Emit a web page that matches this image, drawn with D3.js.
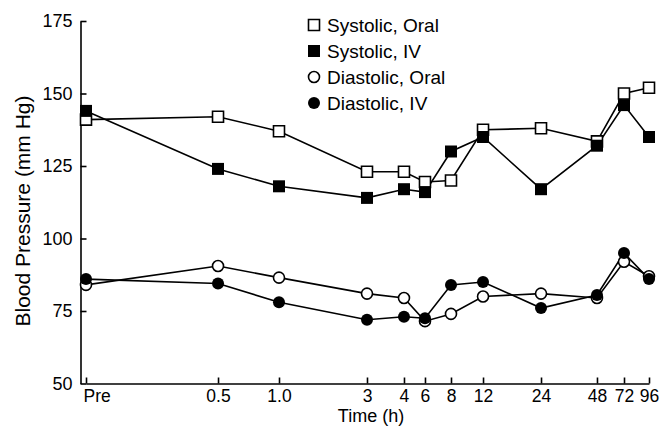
<!DOCTYPE html>
<html>
<head>
<meta charset="utf-8">
<script src="https://cdn.jsdelivr.net/npm/d3@7"></script>
<style>
    body { margin: 0; background: #fff; }
    text { font-family: "Liberation Sans", Arial, Helvetica, sans-serif; fill: #000; }
    .axis path, .axis line { stroke: #000; stroke-width: 1.6; }
    .line { fill: none; stroke: #000; stroke-width: 1.6; }
</style>
</head>
<body>
<script>
// time points, "Pre" is put at hour 0
const hours = [0, 0.5, 1, 3, 4, 6, 8, 12, 24, 48, 72, 96];
const hourLabels = ["Pre", "0.5", "1.0", "3", "4", "6", "8", "12", "24", "48", "72", "96"];
const yTicks = [50, 75, 100, 125, 150, 175];

// values (mm Hg)
const systolicOral = [141, 142, 137, 123, 123, 119.5, 120, 137.5, 138, 133.5, 150, 152];
const systolicIV = [144, 124, 118, 114, 117, 116, 130, 135, 117, 132, 146, 135];
const diastolicOral = [84, 90.5, 86.5, 81, 79.5, 71.5, 74, 80, 81, 79.5, 92, 87];
const diastolicIV = [86, 84.5, 78, 72, 73, 72.5, 84, 85, 76, 80.5, 95, 86];

const seriesNames = ["Systolic, Oral", "Systolic, IV", "Diastolic, Oral", "Diastolic, IV"];

// the original time axis is not uniform, these are the relative stops of every tick along it
const axisStops = [0, 0.2345, 0.3428, 0.4991, 0.5648, 0.6021, 0.6483, 0.7052, 0.8082, 0.9076, 0.9556, 1];

const width = 661, height = 428;
const xLeft = 86, xRight = 649, yTop = 21, yBottom = 383.5, yAxisX = 80.5;

let svg = d3.select("body").append("svg")
    .attr("width", width)
    .attr("height", height);

let xScale = d3.scaleLinear()
    .domain(hours)
    .range(axisStops.map(f => xLeft + f * (xRight - xLeft)));

let yScale = d3.scaleLinear()
    .domain([50, 175])
    .range([yBottom, yTop]);

// x axis, ticks point up into the plot
let xAxis = svg.append("g")
    .attr("class", "x axis")
    .attr("transform", "translate(0," + yBottom + ")")
    .call(d3.axisBottom(xScale)
        .tickValues(hours)
        .tickFormat((d, i) => hourLabels[i])
        .tickSizeInner(-6)
        .tickSizeOuter(0)
        .tickPadding(6));
xAxis.selectAll("text").style("font-size", "17.5px");
//"Pre" sits to the right of its tick
xAxis.selectAll(".tick text").filter((d, i) => i === 0)
    .attr("text-anchor", "start")
    .attr("x", -3);

// y axis, ticks point right
let yAxis = svg.append("g")
    .attr("class", "y axis")
    .attr("transform", "translate(" + yAxisX + ",0)")
    .call(d3.axisLeft(yScale)
        .tickValues(yTicks)
        .tickSizeInner(-6)
        .tickSizeOuter(0)
        .tickPadding(8));
yAxis.selectAll("text").style("font-size", "18px");
svg.selectAll(".axis .domain").attr("fill", "none");

svg.append("text")
    .attr("x", 371)
    .attr("y", 422)
    .attr("text-anchor", "middle")
    .style("font-size", "18px")
    .text("Time (h)");

svg.append("text")
    .attr("transform", "translate(30,211) rotate(-90)")
    .attr("text-anchor", "middle")
    .style("font-size", "21px")
    .text("Blood Pressure (mm Hg)");

const series = [
    { name: seriesNames[0], values: systolicOral, shape: d3.symbolSquare, filled: false },
    { name: seriesNames[1], values: systolicIV, shape: d3.symbolSquare, filled: true },
    { name: seriesNames[2], values: diastolicOral, shape: d3.symbolCircle, filled: false },
    { name: seriesNames[3], values: diastolicIV, shape: d3.symbolCircle, filled: true }
];

function symbolPath(s) {
    //open markers get a stroke so they are drawn a bit smaller
    const side = s.filled ? 12 : 11;
    const size = s.shape === d3.symbolSquare ? side * side : Math.PI * (side / 2) * (side / 2);
    return d3.symbol().type(s.shape).size(size)();
}

function styleMarker(sel, s) {
    sel.attr("d", symbolPath(s))
        .attr("fill", s.filled ? "#000" : "#fff")
        .attr("stroke", "#000")
        .attr("stroke-width", s.filled ? 0 : 1.6);
}

let line = d3.line()
    .x((d, i) => xScale(hours[i]))
    .y(d => yScale(d));

// all lines first so the markers sit on top
series.forEach(s => {
    svg.append("path")
        .datum(s.values)
        .attr("class", "line")
        .attr("d", line);
});

series.forEach(s => {
    svg.append("g").selectAll("path")
        .data(s.values)
        .join("path")
        .call(styleMarker, s)
        .attr("transform", (d, i) => "translate(" + xScale(hours[i]) + "," + yScale(d) + ")");
});

// legend
let legend = svg.append("g")
    .attr("transform", "translate(314,25)");
let rows = legend.selectAll("g")
    .data(series)
    .join("g")
    .attr("transform", (d, i) => "translate(0," + i * 26 + ")");
rows.append("path").each(function (s) { d3.select(this).call(styleMarker, s); });
rows.append("text")
    .attr("x", 13)
    .attr("dy", "0.35em")
    .style("font-size", "19px")
    .text(d => d.name);
</script>
</body>
</html>
